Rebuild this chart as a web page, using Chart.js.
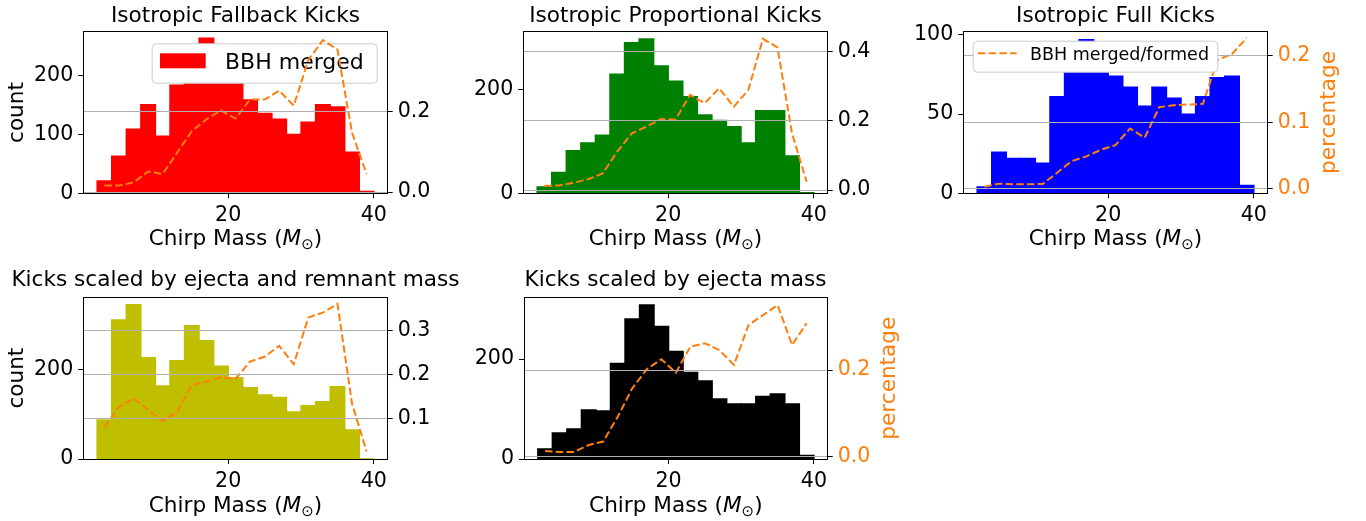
<!DOCTYPE html>
<html>
<head>
<meta charset="utf-8">
<script src="https://cdn.jsdelivr.net/npm/chart.js@4.4.0/dist/chart.umd.min.js"></script>
<style>
  body { margin: 0; background: #fff; width: 1366px; height: 521px; position: relative; overflow: hidden; }
  canvas { position: absolute; }
</style>
</head>
<body>
<canvas id="c1" width="471" height="258" style="left:0px;top:0px"></canvas>
<canvas id="c2" width="449" height="258" style="left:451px;top:0px"></canvas>
<canvas id="c3" width="501" height="258" style="left:865px;top:0px"></canvas>
<canvas id="c4" width="471" height="263" style="left:0px;top:258px"></canvas>
<canvas id="c5" width="449" height="263" style="left:451px;top:258px"></canvas>
<script>
// bin centres of the chirp mass histogram
var mass = [3, 5, 7, 9, 11, 13, 15, 17, 19, 21, 23, 25, 27, 29, 31, 33, 35, 37, 39];

var fallbackCount = [21, 63, 109, 151, 97, 184, 187, 264, 187, 187, 159, 136, 126, 100, 121, 151, 147, 70, 3];
var fallbackPct = [0.016, 0.016, 0.024, 0.051, 0.045, 0.098, 0.151, 0.180, 0.202, 0.182, 0.229, 0.229, 0.251, 0.214, 0.327, 0.376, 0.353, 0.147, 0.045];

var propCount = [12, 40, 82, 97, 112, 229, 290, 297, 245, 216, 186, 151, 140, 128, 97, 159, 159, 72, 1];
var propPct = [0.012, 0.013, 0.021, 0.031, 0.048, 0.111, 0.164, 0.183, 0.205, 0.204, 0.275, 0.251, 0.294, 0.241, 0.289, 0.437, 0.412, 0.164, 0.024];

var fullCount = [4, 26, 22, 22, 19, 61, 77, 97, 77, 74, 67, 55, 67, 60, 50, 61, 73, 74, 5];
var fullPct = [0.0035, 0.008, 0.007, 0.007, 0.0075, 0.0245, 0.042, 0.049, 0.059, 0.066, 0.091, 0.077, 0.123, 0.126, 0.127, 0.128, 0.194, 0.203, 0.227];

var ejRemCount = [87, 310, 344, 226, 163, 219, 297, 264, 207, 181, 159, 143, 137, 105, 119, 128, 161, 65, 0];
var ejRemPct = [0.079, 0.127, 0.146, 0.119, 0.094, 0.115, 0.176, 0.184, 0.194, 0.190, 0.230, 0.241, 0.266, 0.224, 0.331, 0.342, 0.362, 0.134, 0.024];

var ejCount = [20, 52, 60, 98, 96, 191, 280, 308, 265, 215, 173, 156, 120, 110, 110, 125, 130, 110, 7];
var ejPct = [0.013, 0.011, 0.011, 0.027, 0.035, 0.092, 0.158, 0.202, 0.225, 0.194, 0.254, 0.262, 0.246, 0.212, 0.304, 0.327, 0.350, 0.258, 0.308];

// tick labels
var xTicks = [20, 40];
var fallbackTicks = [0, 100, 200], fallbackPctTicks = [0, 0.2];
var propTicks = [0, 200], propPctTicks = [0, 0.2, 0.4];
var fullTicks = [0, 50, 100], fullPctTicks = [0, 0.1, 0.2];
var ejRemTicks = [0, 200], ejRemPctTicks = [0.1, 0.2, 0.3];
var ejTicks = [0, 200], ejPctTicks = [0, 0.2];

var orange = '#ff7f0e';
var FONT = '"DejaVu Sans", sans-serif';
Chart.defaults.font.family = FONT;
Chart.defaults.color = '#000';

function drawFrame(ctx, a) {
  ctx.save();
  ctx.strokeStyle = '#000';
  ctx.lineWidth = 1;
  var l = Math.floor(a.left) + 0.5, t = Math.floor(a.top) + 0.5;
  var r = Math.floor(a.right) + 0.5, b = Math.floor(a.bottom) + 0.5;
  ctx.strokeRect(l, t, r - l, b - t);
  ctx.restore();
}

function drawChirp(ctx, cx, y) {
  var parts = [
    ['Chirp Mass (', '21.6px ' + FONT, 0],
    ['M', 'italic 21.6px ' + FONT, 0],
    ['\u2299', '15px ' + FONT, 4],
    [')', '21.6px ' + FONT, 0]
  ];
  ctx.save();
  var total = 0;
  parts.forEach(function (p) { ctx.font = p[1]; total += ctx.measureText(p[0]).width; });
  var x = cx - total / 2;
  ctx.fillStyle = '#000';
  ctx.textBaseline = 'alphabetic';
  ctx.textAlign = 'left';
  parts.forEach(function (p) {
    ctx.font = p[1];
    ctx.fillText(p[0], x, y + p[2]);
    x += ctx.measureText(p[0]).width;
  });
  ctx.restore();
}

function drawPctLabel(ctx, x, cy) {
  ctx.save();
  ctx.translate(x, cy);
  ctx.rotate(-Math.PI / 2);
  ctx.font = '21.6px ' + FONT;
  ctx.fillStyle = orange;
  ctx.textAlign = 'center';
  ctx.textBaseline = 'alphabetic';
  ctx.fillText('percentage', 0, 0);
  ctx.restore();
}

function drawLegend(ctx, lg) {
  ctx.save();
  ctx.beginPath();
  ctx.roundRect(lg.x + 0.5, lg.y + 0.5, lg.w, lg.h, 4);
  ctx.fillStyle = '#fff';
  ctx.fill();
  ctx.strokeStyle = '#cccccc';
  ctx.lineWidth = 1;
  ctx.stroke();
  if (lg.kind === 'bar') {
    ctx.fillStyle = lg.color;
    ctx.fillRect(lg.sx, lg.sy - lg.sh / 2, lg.sw, lg.sh);
  } else {
    ctx.strokeStyle = orange;
    ctx.lineWidth = 2;
    ctx.setLineDash([7.5, 3.2]);
    ctx.beginPath();
    ctx.moveTo(lg.sx, lg.sy);
    ctx.lineTo(lg.sx + lg.sw, lg.sy);
    ctx.stroke();
  }
  ctx.fillStyle = '#000';
  ctx.font = lg.size + 'px ' + FONT;
  ctx.textBaseline = 'alphabetic';
  ctx.fillText(lg.text, lg.tx, lg.ty);
  ctx.restore();
}

function panel(p) {
  var decor = {
    id: 'decor',
    afterDatasetDraw: function (chart, args) {
      if (p.legend && p.legend.under && args.index === 1) drawLegend(chart.ctx, p.legend);
    },
    afterDraw: function (chart) {
      var a = chart.chartArea, ctx = chart.ctx;
      drawFrame(ctx, a);
      drawChirp(ctx, (a.left + a.right) / 2, a.bottom + p.xlabY);
      if (p.pctX) drawPctLabel(ctx, p.pctX, (a.top + a.bottom) / 2);
      if (p.legend && !p.legend.under) drawLegend(ctx, p.legend);
    }
  };
  return new Chart(document.getElementById(p.id), {
    data: {
      labels: mass,
      datasets: [
        {
          type: 'line', label: 'BBH merged/formed', data: p.pct, yAxisID: 'y1',
          borderColor: orange, borderWidth: 2, borderDash: [7.5, 3.2],
          pointRadius: 0, fill: false, tension: 0, order: 0
        },
        {
          type: 'bar', label: 'BBH merged', data: p.count, yAxisID: 'y',
          backgroundColor: p.color, borderWidth: 0, inflateAmount: 0.7,
          barPercentage: 1, categoryPercentage: 1, order: 1
        }
      ]
    },
    options: {
      responsive: false,
      animation: false,
      events: [],
      layout: { padding: 0 },
      plugins: {
        legend: { display: false },
        tooltip: { enabled: false },
        title: {
          display: true, text: p.title, color: '#000',
          font: { size: 21.6, weight: 'normal' },
          padding: { top: p.tpad, bottom: p.bpad }
        }
      },
      scales: {
        x: {
          type: 'linear', min: 0.1, max: 41.9, offset: false,
          afterBuildTicks: function (s) { s.ticks = xTicks.map(function (v) { return { value: v }; }); },
          afterFit: function (s) { s.height = p.xH; },
          grid: { offset: false, drawOnChartArea: false, tickLength: 5, color: '#000' },
          border: { display: false },
          ticks: { font: { size: 20.6 }, padding: 5, color: '#000', maxRotation: 0, autoSkip: false }
        },
        y: {
          position: 'left', min: 0, max: p.ymax,
          afterBuildTicks: function (s) { s.ticks = p.ticks.map(function (v) { return { value: v }; }); },
          afterFit: function (s) { s.width = p.yW; },
          grid: { drawOnChartArea: false, tickLength: 5, color: '#000' },
          border: { display: false },
          ticks: { font: { size: 20.6 }, padding: 5, color: '#000' },
          title: {
            display: !!p.countLabel, text: 'count', color: '#000',
            font: { size: 21.6 }, padding: { top: 4, bottom: 0 }
          }
        },
        y1: {
          position: 'right', min: p.rmin, max: p.rmax,
          afterBuildTicks: function (s) { s.ticks = p.pticks.map(function (v) { return { value: v }; }); },
          afterFit: function (s) { s.width = p.y1W; },
          grid: { color: '#b0b0b0', tickColor: '#000', tickLength: 5, lineWidth: 1, z: 1 },
          border: { display: false },
          ticks: {
            font: { size: 20.6 }, padding: 5, color: p.pctColor,
            callback: function (v) { return v.toFixed(1); }
          }
        }
      }
    },
    plugins: [decor]
  });
}

panel({
  id: 'c1', title: 'Isotropic Fallback Kicks', count: fallbackCount, pct: fallbackPct,
  color: '#ff0000', ticks: fallbackTicks, pticks: fallbackPctTicks,
  ymax: 275, rmin: -0.003, rmax: 0.397, yW: 83.3, y1W: 83.3, xH: 64.7,
  tpad: 3.5, bpad: 2.3, xlabY: 51.5, countLabel: true, pctColor: '#000',
  legend: { under: true, kind: 'bar', color: '#ff0000', text: 'BBH merged', size: 22,
    x: 151.7, y: 43.3, w: 225, h: 39.4, sx: 160, sy: 60.8, sw: 45.7, sh: 15, tx: 225, ty: 69.3 }
});

panel({
  id: 'c2', title: 'Isotropic Proportional Kicks', count: propCount, pct: propPct,
  color: '#008000', ticks: propTicks, pticks: propPctTicks,
  ymax: 311, rmin: -0.0095, rmax: 0.4575, yW: 72.3, y1W: 72.3, xH: 64.7,
  tpad: 3.5, bpad: 2.3, xlabY: 51.5, pctColor: '#000'
});

panel({
  id: 'c3', title: 'Isotropic Full Kicks', count: fullCount, pct: fullPct,
  color: '#0000ff', ticks: fullTicks, pticks: fullPctTicks,
  ymax: 102, rmin: -0.0065, rmax: 0.2365, yW: 98.3, y1W: 98.3, xH: 64.7,
  tpad: 3.5, bpad: 2.3, xlabY: 51.5, pctColor: orange, pctX: 469.5,
  legend: { under: false, kind: 'line', text: 'BBH merged/formed', size: 17.5,
    x: 107.7, y: 40.7, w: 244.6, h: 31, sx: 113, sy: 53.3, sw: 38.7, tx: 165, ty: 60.4 }
});

panel({
  id: 'c4', title: 'Kicks scaled by ejecta and remnant mass', count: ejRemCount, pct: ejRemPct,
  color: '#bfbf00', ticks: ejRemTicks, pticks: ejRemPctTicks,
  ymax: 360.5, rmin: 0.0069, rmax: 0.377, yW: 83.3, y1W: 83.3, xH: 62,
  tpad: 9.8, bpad: 3.6, xlabY: 52.5, countLabel: true, pctColor: '#000'
});

panel({
  id: 'c5', title: 'Kicks scaled by ejecta mass', count: ejCount, pct: ejPct,
  color: '#000000', ticks: ejTicks, pticks: ejPctTicks,
  ymax: 323.4, rmin: -0.0053, rmax: 0.368, yW: 73, y1W: 72.3, xH: 62,
  tpad: 9.8, bpad: 3.6, xlabY: 52.5, pctColor: orange, pctX: 443.6
});
</script>
</body>
</html>
